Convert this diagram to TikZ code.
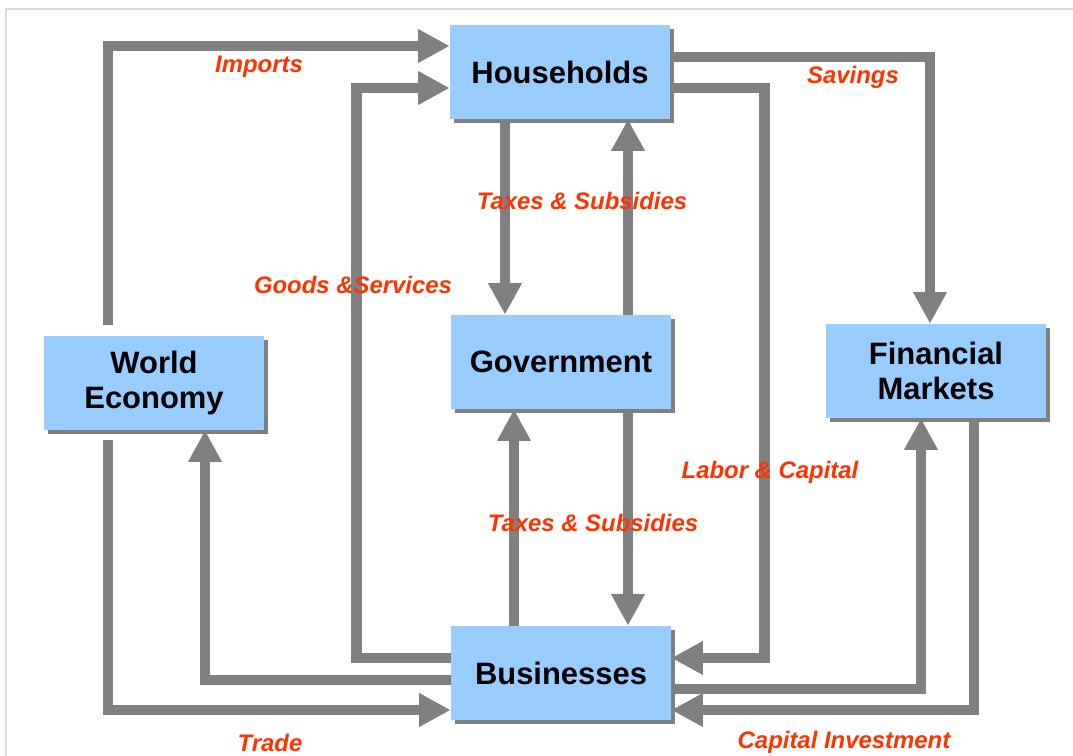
\documentclass[tikz,border=0pt]{standalone}
\usepackage{fontspec}
\setmainfont{Liberation Sans}
\usetikzlibrary{arrows.meta,calc,shadows}

\definecolor{boxblue}{RGB}{153,204,255}
\definecolor{flowgray}{RGB}{128,128,128}
\definecolor{labelred}{RGB}{255,51,0}

\begin{document}
\begin{tikzpicture}[x=0.025cm, y=-0.025cm, >={Triangle[length=22.5pt,width=22.5pt]}]

% styles
\tikzset{
  box/.style={fill=boxblue, minimum width=5.5cm, minimum height=2.35cm, inner sep=0pt,
    align=center, font=\fontsize{22}{25.5}\selectfont\bfseries,
    drop shadow={shadow xshift=2.8pt, shadow yshift=-2.8pt, fill=flowgray, opacity=1}},
  flow/.style={->, draw=flowgray, line width=7.8pt, line join=miter},
  lbl/.style={text=labelred, font=\fontsize{17}{20}\selectfont\bfseries\itshape},
  frame/.style={draw=black!14, line width=1.4pt},
}

\useasboundingbox (0,0) rectangle (1073,756);

% page frame
\draw[frame] (6,756) -- (6,9) -- (1073,9);

% sectors
\node[box] (hh) at (560,72) {Households};
\node[box] (gov) at (561,362) {Government};
\node[box] (bus) at (561,673) {Businesses};
\node[box] (world) at (154,383) {World\\Economy};
\node[box] (fin) at (936,371) {Financial\\Markets};

% world economy flows
\draw[flow] ($(world.north)+(-46,-11)$) |- ($(hh.west)+(0,-26)$);
\draw[flow] ($(world.south)+(-46,10)$) |- ($(bus.west)+(0,37)$);
\draw[flow] ($(bus.west)+(0,7)$) -| ($(world.south)+(51,0)$);

% goods and services
\draw[flow] ($(bus.west)+(0,-15)$) -- ++(-94,0) |- ($(hh.west)+(0,16)$);

% taxes and subsidies
\draw[flow] ($(hh.south)+(-55,0)$) -- ($(gov.north)+(-56,0)$);
\draw[flow] ($(gov.north)+(67,0)$) -- ($(hh.south)+(68,0)$);
\draw[flow] ($(bus.north)+(-47,0)$) -- ($(gov.south)+(-47,0)$);
\draw[flow] ($(gov.south)+(67,0)$) -- ($(bus.north)+(67,0)$);

% labor and capital
\draw[flow] ($(hh.east)+(0,16)$) -- ++(94,0) |- ($(bus.east)+(0,-15)$);

% financial markets
\draw[flow] ($(hh.east)+(0,-15)$) -| ($(fin.north)+(-6,0)$);
\draw[flow] ($(bus.east)+(0,16)$) -| ($(fin.south)+(-15,0)$);
\draw[flow] ($(fin.south)+(38,0)$) |- ($(bus.east)+(0,37)$);

% flow labels
\node[lbl] (limports) at (259,67) {Imports};
\node[lbl] (lgoods) at (353,285) {Goods \&Services};
\node[lbl] (ltaxtop) at (582,201) {Taxes \& Subsidies};
\node[lbl] (ltaxbot) at (593,523) {Taxes \& Subsidies};
\node[lbl] (lsavings) at (853,77) {Savings};
\node[lbl] (llabor) at (770,472) {Labor \& Capital};
\node[lbl] (ltrade) at (270,743) {Trade};
\node[lbl] (lcapital) at (844,742) {Capital Investment};

\end{tikzpicture}
\end{document}
